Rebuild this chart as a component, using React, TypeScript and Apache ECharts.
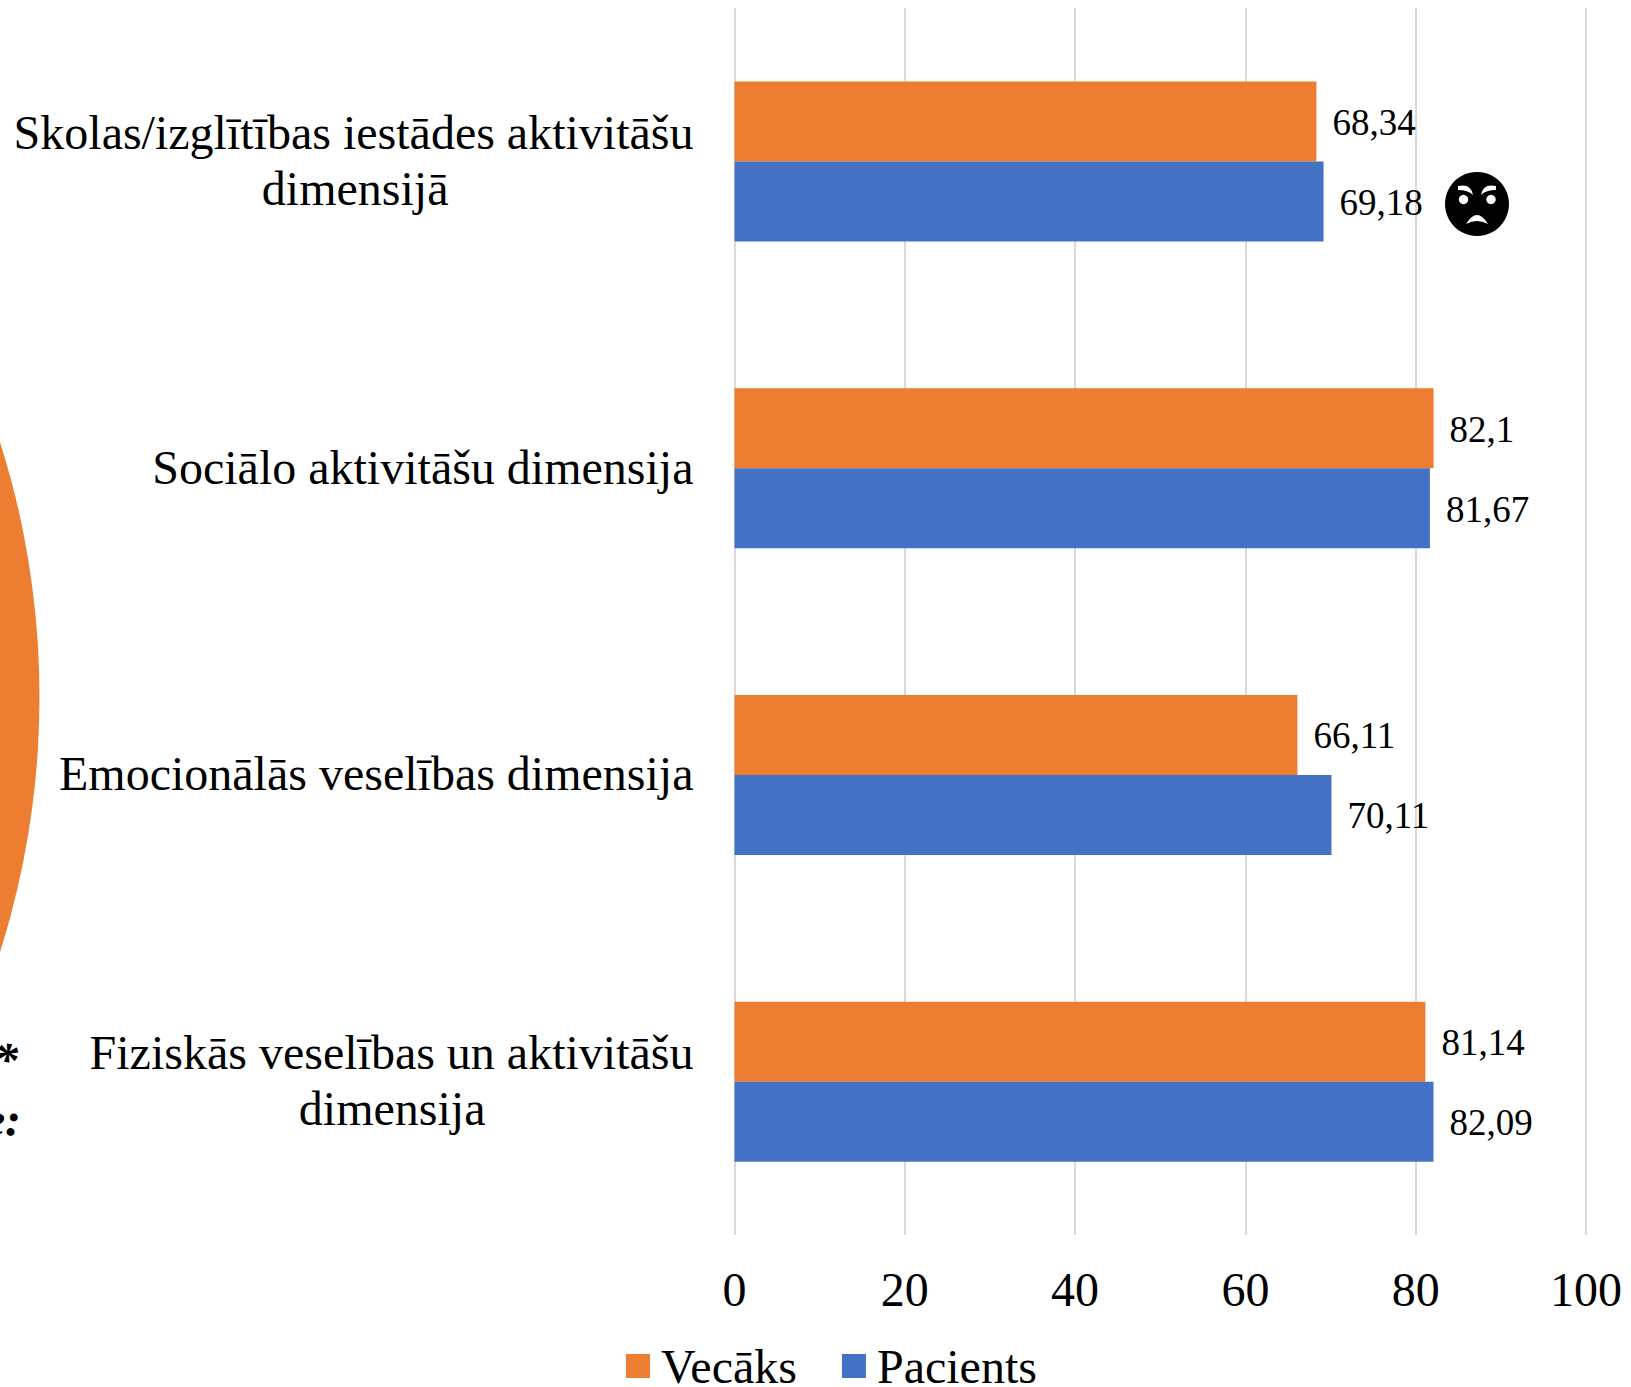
import React, { useEffect, useRef } from "react";
import * as echarts from "echarts";

const categories = [
  "Skolas/izglītības iestādes aktivitāšu\n{t|dimensijā}{p1|\u00a0}",
  "Sociālo aktivitāšu dimensija",
  "Emocionālās veselības dimensija",
  "Fiziskās veselības un aktivitāšu\n{t|dimensija}{p2|\u00a0}",
];
const vecaks = [68.34, 82.1, 66.11, 81.14];
const pacients = [69.18, 81.67, 70.11, 82.09];
const axisTicks = [0, 20, 40, 60, 80, 100];

const SERIF = "'Liberation Serif', 'Times New Roman', serif";

echarts.graphic.registerShape(
  "frownMarks",
  echarts.graphic.extendPath(
    "M-19,-18 Q-6,-21 -4,-9 Q-9,-14 -19,-14 Z M19,-18 Q6,-21 4,-9 Q9,-14 19,-14 Z M-11,20 Q0,2 11,20 Q0,14 -11,20 Z",
    {}
  )
);

export default function App() {
  const ref = useRef<HTMLDivElement>(null);
  useEffect(() => {
    const chart = echarts.init(ref.current!, null, { renderer: "svg" });
    const labelText = (v: number) => String(v).replace(".", ",");
    const makeSeries = (name: string, data: number[], color: string) => ({
      name,
      type: "bar",
      data,
      barWidth: 80,
      barGap: "0%",
      itemStyle: { color },
      label: {
        show: true,
        position: "right",
        distance: 16,
        offset: [0, 1],
        color: "#000",
        fontFamily: SERIF,
        fontSize: 37,
        formatter: (p: any) => labelText(p.value),
      },
    });
    chart.setOption({
      animation: false,
      backgroundColor: "#fff",
      grid: { left: 734.5, right: 45, top: 8, bottom: 152 },
      xAxis: {
        type: "value",
        min: 0,
        max: axisTicks[axisTicks.length - 1],
        interval: axisTicks[1] - axisTicks[0],
        position: "bottom",
        axisLine: { show: false },
        axisTick: { show: false },
        axisLabel: { color: "#000", fontFamily: SERIF, fontSize: 48, margin: 30 },
        splitLine: { show: true, lineStyle: { color: "#d9d9d9", width: 2 } },
      },
      yAxis: {
        type: "category",
        inverse: true,
        data: categories,
        axisLine: { show: false },
        axisTick: { show: false },
        axisLabel: {
          color: "#000",
          fontFamily: SERIF,
          fontSize: 48,
          lineHeight: 56,
          margin: 41,
          align: "right",
          interval: 0,
          padding: [0, 0, 2, 0],
          rich: {
            p1: { width: 245, fontSize: 48, lineHeight: 56, align: "right" },
            p2: { width: 208, fontSize: 48, lineHeight: 56, align: "right" },
            t: { color: "#000", fontFamily: SERIF, fontSize: 48, lineHeight: 56, align: "right" },
          },
        },
      },
      legend: {
        left: 626,
        top: 1342,
        selectedMode: false,
        icon: "rect",
        itemWidth: 24,
        itemHeight: 24,
        itemGap: 45,
        padding: 0,
        data: ["Vecāks", "Pacients"],
        textStyle: { color: "#000", fontFamily: SERIF, fontSize: 48, padding: [0, 0, 4, 6] },
      },
      graphic: [
        {
          type: "circle",
          shape: { cx: 39.5 - 843, cy: 697, r: 843 },
          style: { fill: "#ED7D31" },
          silent: true,
        },
        {
          type: "text",
          x: 18,
          y: 1059,
          style: { text: "*", fill: "#000", font: `italic bold 48px ${SERIF}`, textAlign: "right", textVerticalAlign: "middle" },
        },
        {
          type: "text",
          x: 21,
          y: 1119,
          style: { text: "e:", fill: "#000", font: `italic bold 48px ${SERIF}`, textAlign: "right", textVerticalAlign: "middle" },
        },
        { type: "circle", shape: { cx: 1477, cy: 204, r: 32 }, style: { fill: "#000" }, z: 10 },
        { type: "circle", shape: { cx: 1463.5, cy: 199.5, r: 4.7 }, style: { fill: "#fff" }, z: 11 },
        { type: "circle", shape: { cx: 1491, cy: 199.5, r: 4.7 }, style: { fill: "#fff" }, z: 11 },
        { type: "frownMarks", x: 1477, y: 204, style: { fill: "#fff" }, z: 11 },
      ],
      series: [
        makeSeries("Vecāks", vecaks, "#ED7D31"),
        makeSeries("Pacients", pacients, "#4472C4"),
      ],
    });
    return () => chart.dispose();
  }, []);
  return (
    <div
      ref={ref}
      style={{ position: "fixed", left: 0, top: 0, width: 1631, height: 1387 }}
    />
  );
}
